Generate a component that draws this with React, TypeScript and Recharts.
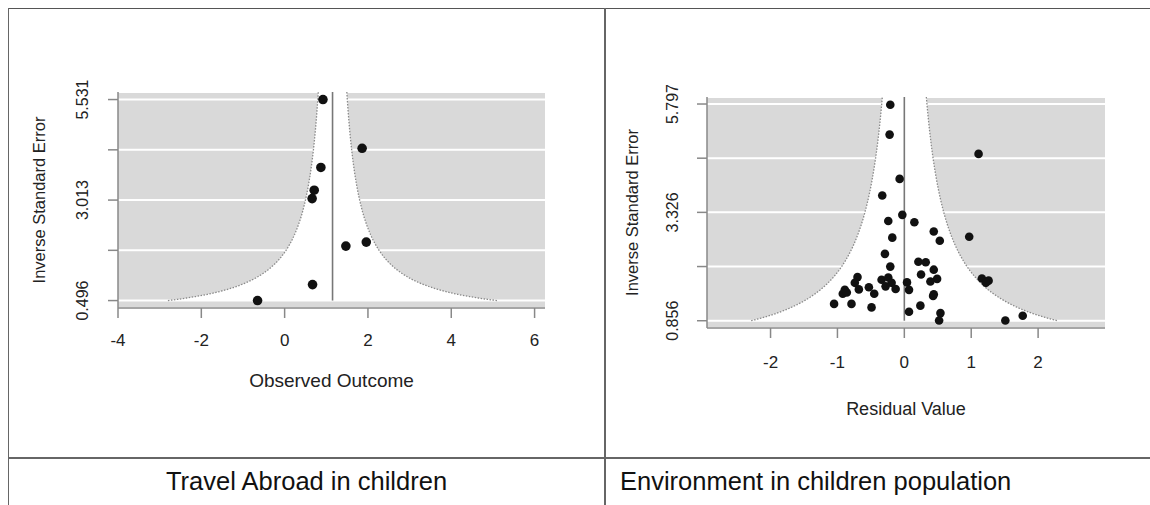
import React from 'react';
import { ComposedChart, XAxis, YAxis, CartesianGrid, Area, Line, Scatter, Label } from 'recharts';

// ---------- Captions ----------
const CAPTIONS = ['Travel Abroad in children', 'Environment in children population'];

// ---------- Left panel: Travel Abroad in children ----------
const travelX = [0.92, 1.86, 0.87, 0.71, 0.66, 1.47, 1.96, 0.67, -0.65];
const travelY = [5.531, 4.31, 3.83, 3.26, 3.05, 1.86, 1.96, 0.896, 0.496];
const travelXTicks = [-4, -2, 0, 2, 4, 6];
const travelYTicks = [0.496, 1.7545, 3.013, 4.2715, 5.531];
const travelYLabels = ['0.496', '', '3.013', '', '5.531'];
const travelXDomain = [-4, 6.25];
const travelYDomain = [0.31, 5.72];
const TRAVEL_ESTIMATE = 1.15;

// ---------- Right panel: Environment in children population ----------
const envX = [-0.21, -0.22, 1.11, -0.07, -0.33, -0.03, -0.24, 0.15, -0.18, 0.44, 0.53, 0.97, -0.29, -0.21, 0.21, 0.32, 0.44, 0.25, 0.49, 0.39, -0.34, -0.24, -0.19, -0.28, -0.13, 0.04, 0.07, -0.53, -0.45, -0.49, 0.24, 0.44, 0.43, 0.07, 0.54, 0.52, 1.16, 1.26, 1.22, 1.51, 1.77, -0.70, -0.74, -0.68, -0.89, -0.92, -0.86, -1.05, -0.79];
const envY = [5.78, 5.10, 4.66, 4.09, 3.71, 3.27, 3.13, 3.10, 2.75, 2.89, 2.68, 2.77, 2.38, 2.09, 2.20, 2.19, 2.02, 1.91, 1.81, 1.75, 1.79, 1.84, 1.72, 1.64, 1.58, 1.73, 1.56, 1.62, 1.47, 1.16, 1.20, 1.46, 1.42, 1.06, 1.03, 0.86, 1.82, 1.77, 1.72, 0.86, 0.97, 1.85, 1.72, 1.57, 1.56, 1.47, 1.50, 1.24, 1.24];
const envXTicks = [-2, -1, 0, 1, 2];
const envYTicks = [0.856, 2.09125, 3.3265, 4.56175, 5.797];
const envYLabels = ['0.856', '', '3.326', '', '5.797'];
const envXDomain = [-2.95, 3.0];
const envYDomain = [0.69, 5.957];
const ENV_ESTIMATE = 0;

// pseudo-confidence region multiplier of a funnel plot
const Z = 1.96;

const FONT = '"Liberation Sans", Arial, sans-serif';
const TXT = '#222';

function funnelBranch(est: number, yBottom: number, yTop: number, side: number) {
  const pts: { x: number; y: number }[] = [];
  const n = 80;
  for (let i = 0; i <= n; i++) {
    const y = yBottom * Math.pow(yTop / yBottom, i / n);
    pts.push({ x: est + side * (Z / y), y });
  }
  return pts;
}

type PanelProps = {
  width: number;
  height: number;
  margin: { top: number; right: number; bottom: number; left: number };
  yAxisWidth: number;
  xAxisHeight: number;
  xs: number[];
  ys: number[];
  xTicks: number[];
  yTicks: number[];
  yLabels: string[];
  xDomain: number[];
  yDomain: number[];
  estimate: number;
  xTitle: string;
  yTitle: string;
  xTickDy: number;
  xTitleDy: number;
  xTitleSize: number;
  yTickDx: number;
  yTitleX: number;
  dotR: number;
};

function FunnelPanel(p: PanelProps) {
  const points = p.xs.map((x, i) => ({ x, y: p.ys[i] }));
  const yBottom = p.yTicks[0];
  const yTop = p.yDomain[1];
  const left = funnelBranch(p.estimate, yBottom, yTop, -1);
  const right = funnelBranch(p.estimate, yBottom, yTop, 1).reverse();
  const region = [...left, ...right];
  const estLine = [
    { x: p.estimate, y: yBottom },
    { x: p.estimate, y: yTop },
  ];

  const YTick = (props: any) => {
    const { x, y, payload } = props;
    const idx = p.yTicks.indexOf(payload.value);
    const label = idx >= 0 ? p.yLabels[idx] : '';
    const cx = x - p.yTickDx;
    return (
      <text
        x={cx}
        y={y}
        transform={`rotate(-90, ${cx}, ${y})`}
        textAnchor="middle"
        dominantBaseline="central"
        fontSize={16}
        fontFamily={FONT}
        fill={TXT}
      >
        {label}
      </text>
    );
  };

  const XTick = (props: any) => {
    const { x, y, payload } = props;
    return (
      <text
        x={x}
        y={y + p.xTickDy}
        textAnchor="middle"
        dominantBaseline="central"
        fontSize={17}
        fontFamily={FONT}
        fill={TXT}
      >
        {String(payload.value)}
      </text>
    );
  };

  const XTitle = (props: any) => {
    const vb = props.viewBox;
    return (
      <text
        x={vb.x + vb.width / 2}
        y={vb.y + p.xTitleDy}
        textAnchor="middle"
        dominantBaseline="central"
        fontSize={p.xTitleSize}
        fontFamily={FONT}
        fill={TXT}
      >
        {p.xTitle}
      </text>
    );
  };

  const YTitle = (props: any) => {
    const vb = props.viewBox;
    const cy = vb.y + vb.height / 2;
    return (
      <text
        x={p.yTitleX}
        y={cy}
        transform={`rotate(-90, ${p.yTitleX}, ${cy})`}
        textAnchor="middle"
        dominantBaseline="central"
        fontSize={16.5}
        fontFamily={FONT}
        fill={TXT}
      >
        {p.yTitle}
      </text>
    );
  };

  return (
    <ComposedChart width={p.width} height={p.height} margin={p.margin}>
      <CartesianGrid
        vertical={false}
        fill="#d9d9d9"
        fillOpacity={1}
        stroke="#ffffff"
        strokeWidth={2}
      />
      <XAxis
        type="number"
        dataKey="x"
        domain={p.xDomain}
        ticks={p.xTicks}
        allowDataOverflow
        height={p.xAxisHeight}
        tickSize={10}
        tickMargin={0}
        stroke="#888"
        tickLine={{ stroke: '#888', strokeWidth: 1.5 }}
        axisLine={{ stroke: '#888', strokeWidth: 1.5 }}
        tick={<XTick />}
        interval={0}
      >
        <Label content={<XTitle />} />
      </XAxis>
      <YAxis
        type="number"
        dataKey="y"
        domain={p.yDomain}
        ticks={p.yTicks}
        allowDataOverflow
        width={p.yAxisWidth}
        tickSize={10}
        tickMargin={0}
        stroke="#888"
        tickLine={{ stroke: '#888', strokeWidth: 1.5 }}
        axisLine={{ stroke: '#888', strokeWidth: 1.5 }}
        tick={<YTick />}
        interval={0}
      >
        <Label content={<YTitle />} />
      </YAxis>
      <Area
        data={region}
        dataKey="y"
        type="linear"
        baseValue={yBottom}
        fill="#ffffff"
        fillOpacity={1}
        stroke="none"
        isAnimationActive={false}
        activeDot={false}
      />
      <Line
        data={left}
        dataKey="y"
        type="linear"
        stroke="#8a8a8a"
        strokeWidth={1.3}
        strokeDasharray="1.5 1.5"
        dot={false}
        activeDot={false}
        isAnimationActive={false}
      />
      <Line
        data={right}
        dataKey="y"
        type="linear"
        stroke="#8a8a8a"
        strokeWidth={1.3}
        strokeDasharray="1.5 1.5"
        dot={false}
        activeDot={false}
        isAnimationActive={false}
      />
      <Line
        data={estLine}
        dataKey="y"
        type="linear"
        stroke="#777"
        strokeWidth={1.6}
        dot={false}
        activeDot={false}
        isAnimationActive={false}
      />
      <Scatter
        data={points}
        dataKey="y"
        isAnimationActive={false}
        shape={(s: any) => <circle cx={s.cx} cy={s.cy} r={p.dotR} fill="#111" />}
      />
    </ComposedChart>
  );
}

export default function App() {
  return (
    <div
      style={{
        position: 'absolute',
        left: 0,
        top: 0,
        width: 1150,
        height: 505,
        background: '#fff',
        overflow: 'hidden',
      }}
    >
      {/* table frame */}
      <div style={{ position: 'absolute', left: 8, top: 8, width: 1142, height: 1, background: '#555' }} />
      <div style={{ position: 'absolute', left: 8, top: 8, width: 1, height: 497, background: '#666' }} />
      <div style={{ position: 'absolute', left: 604, top: 8, width: 2, height: 497, background: '#666' }} />
      <div style={{ position: 'absolute', left: 8, top: 457, width: 1142, height: 2, background: '#666' }} />

      <div style={{ position: 'absolute', left: 0, top: 0 }}>
        <FunnelPanel
          width={600}
          height={450}
          margin={{ top: 92, right: 55, bottom: 52, left: 0 }}
          yAxisWidth={118}
          xAxisHeight={90}
          xs={travelX}
          ys={travelY}
          xTicks={travelXTicks}
          yTicks={travelYTicks}
          yLabels={travelYLabels}
          xDomain={travelXDomain}
          yDomain={travelYDomain}
          estimate={TRAVEL_ESTIMATE}
          xTitle="Observed Outcome"
          yTitle="Inverse Standard Error"
          xTickDy={22}
          xTitleDy={72}
          xTitleSize={19}
          yTickDx={25}
          yTitleX={39}
          dotR={4.8}
        />
      </div>

      <div style={{ position: 'absolute', left: 605, top: 0 }}>
        <FunnelPanel
          width={545}
          height={450}
          margin={{ top: 97, right: 45, bottom: 32, left: 0 }}
          yAxisWidth={102}
          xAxisHeight={90}
          xs={envX}
          ys={envY}
          xTicks={envXTicks}
          yTicks={envYTicks}
          yLabels={envYLabels}
          xDomain={envXDomain}
          yDomain={envYDomain}
          estimate={ENV_ESTIMATE}
          xTitle="Residual Value"
          yTitle="Inverse Standard Error"
          xTickDy={24}
          xTitleDy={81}
          xTitleSize={18}
          yTickDx={24}
          yTitleX={27}
          dotR={4.3}
        />
      </div>

      {/* captions */}
      <div
        style={{
          position: 'absolute',
          left: 8,
          width: 597,
          top: 461,
          height: 40,
          lineHeight: '40px',
          textAlign: 'center',
          fontFamily: '"Liberation Sans", Arial, sans-serif',
          fontSize: 25.5,
          color: '#111',
        }}
      >
        {CAPTIONS[0]}
      </div>
      <div
        style={{
          position: 'absolute',
          left: 620,
          top: 461,
          height: 40,
          lineHeight: '40px',
          whiteSpace: 'nowrap',
          fontFamily: '"Liberation Sans", Arial, sans-serif',
          fontSize: 25.5,
          color: '#111',
        }}
      >
        {CAPTIONS[1]}
      </div>
    </div>
  );
}
